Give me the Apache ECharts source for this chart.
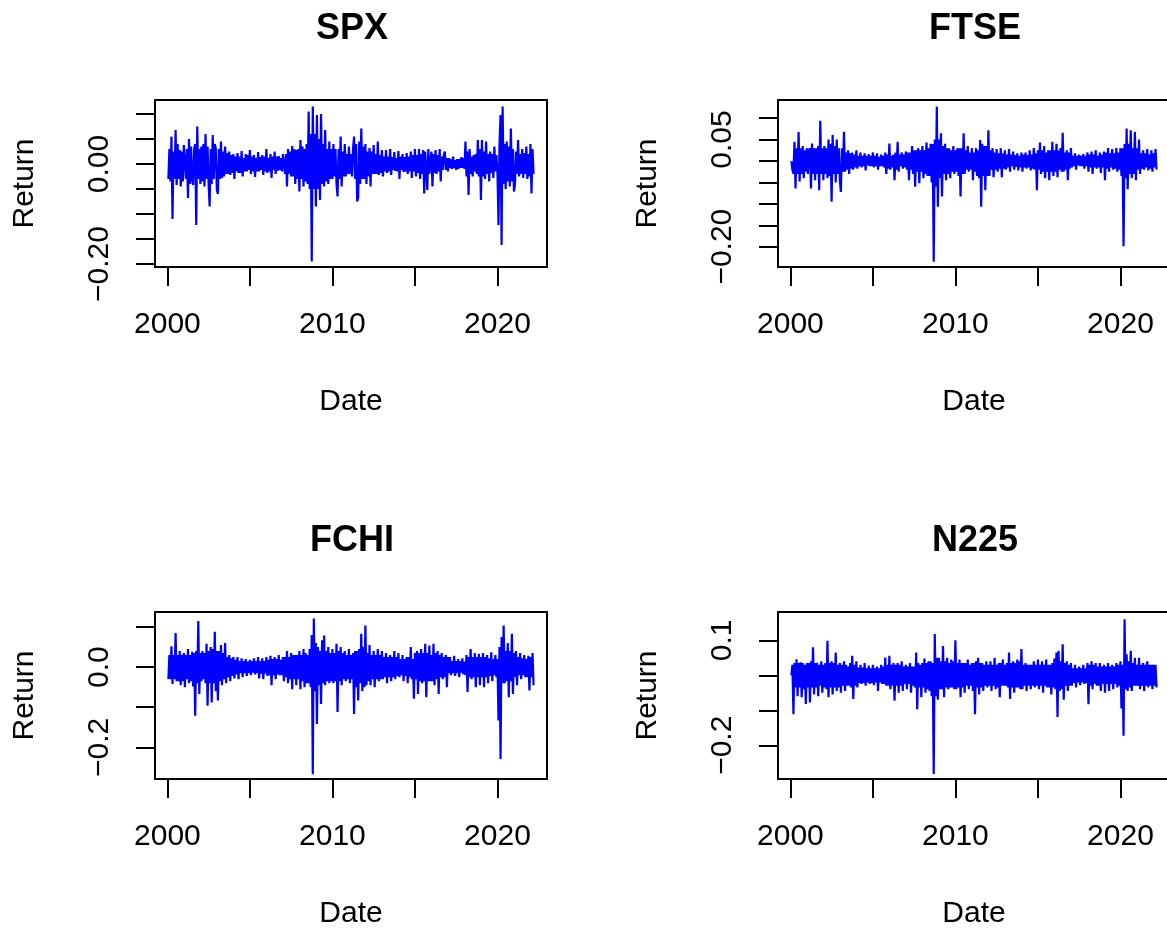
<!DOCTYPE html>
<html>
<head>
<meta charset="utf-8">
<title>Index returns</title>
<script src="https://cdn.jsdelivr.net/npm/echarts@6/dist/echarts.min.js"></script>
<style>
  html, body { margin: 0; padding: 0; background: #fff; }
  #main { width: 1167px; height: 929px; }
</style>
</head>
<body>
<div id="main"></div>
<script>
// sampled returns, 16 points per year from early 2000 to early 2022
const startYear = 2000.06
const stepYear = 0.0625

const xTicks = [2000, 2005, 2010, 2015, 2020]
const xLabels = [2000, 2010, 2020]

const spx = [
  -0.030, 0.030, -0.035, 0.055, -0.110, 0.025, -0.030, 0.068, -0.042, 0.040, -0.030, 0.028, -0.045, 0.025, -0.035, 0.038,
  0.040, -0.030, 0.030, -0.068, 0.050, -0.040, 0.035, -0.030, -0.042, 0.030, 0.040, -0.122, 0.075, -0.030, 0.030, -0.040,
  0.035, -0.035, 0.040, -0.045, 0.060, -0.030, 0.035, -0.040, -0.085, 0.030, -0.040, 0.058, -0.030, 0.040, 0.030, -0.052,
  -0.060, 0.030, -0.030, 0.045, -0.028, 0.025, -0.025, 0.035, -0.020, 0.022, -0.020, 0.025, -0.022, 0.018, -0.018, 0.020,
  -0.030, 0.015, -0.015, 0.022, -0.018, 0.015, -0.018, 0.026, -0.025, 0.012, -0.015, 0.020, -0.015, 0.018, -0.012, 0.028,
  -0.020, 0.015, -0.015, 0.018, -0.026, 0.012, -0.015, 0.024, -0.015, 0.014, -0.012, 0.018, -0.022, 0.015, -0.015, 0.030,
  -0.018, 0.012, -0.015, 0.020, -0.028, 0.015, -0.012, 0.025, -0.020, 0.015, -0.014, 0.016, -0.012, 0.012, -0.015, 0.020,
  0.018, -0.020, 0.020, -0.045, 0.030, -0.020, 0.025, -0.025, 0.036, -0.025, 0.030, -0.040, 0.028, -0.030, 0.030, -0.055,
  0.048, -0.030, 0.035, -0.045, 0.030, -0.035, 0.040, -0.040, 0.105, -0.050, 0.060, -0.195, 0.115, -0.050, 0.060, -0.085,
  0.098, -0.050, 0.050, -0.072, 0.100, -0.040, 0.040, -0.045, 0.068, -0.035, 0.030, -0.040, 0.045, -0.030, 0.030, -0.030,
  0.040, -0.025, 0.030, -0.040, -0.065, 0.030, -0.030, 0.055, -0.045, 0.025, -0.025, 0.040, -0.025, 0.020, -0.020, 0.035,
  -0.020, 0.020, -0.025, 0.030, 0.055, -0.030, 0.040, -0.075, -0.068, 0.045, -0.040, 0.071, -0.030, 0.035, -0.030, 0.040,
  -0.040, 0.025, -0.025, 0.032, -0.045, 0.025, -0.020, 0.038, -0.020, 0.020, -0.020, 0.045, -0.022, 0.018, -0.018, 0.028,
  -0.025, 0.015, -0.015, 0.028, -0.018, 0.015, -0.015, 0.030, -0.022, 0.014, -0.012, 0.024, -0.014, 0.012, -0.015, 0.026,
  -0.030, 0.015, -0.012, 0.020, -0.016, 0.014, -0.015, 0.022, -0.020, 0.015, -0.015, 0.025, -0.028, 0.018, -0.015, 0.030,
  -0.025, 0.018, -0.018, 0.030, -0.030, 0.020, -0.020, 0.028, -0.059, 0.025, 0.025, -0.052, 0.030, -0.020, -0.020, 0.025,
  -0.045, 0.020, -0.018, 0.028, -0.020, 0.018, -0.015, 0.030, -0.035, 0.015, -0.012, 0.018, 0.025, -0.012, 0.012, -0.015,
  0.012, -0.008, 0.010, -0.010, 0.015, -0.008, 0.008, -0.012, 0.010, -0.010, 0.010, -0.008, 0.014, -0.008, 0.012, -0.010,
  0.045, -0.025, 0.025, -0.062, 0.030, -0.020, 0.015, -0.025, 0.018, -0.015, 0.020, -0.020, 0.048, -0.025, 0.030, -0.072,
  0.048, -0.025, 0.025, -0.030, 0.045, -0.020, 0.020, -0.035, 0.025, -0.018, 0.020, -0.028, 0.035, -0.015, 0.018, -0.015,
  -0.122, 0.040, 0.098, -0.162, 0.115, -0.040, 0.040, -0.050, 0.045, -0.035, 0.035, -0.045, 0.071, -0.035, 0.030, -0.055,
  -0.040, 0.025, -0.020, 0.048, -0.025, 0.020, -0.020, 0.030, -0.028, 0.022, -0.020, 0.035, -0.030, 0.020, -0.025, 0.040,
  -0.059, 0.030, -0.020
]

const ftse = [
  0.000, -0.020, -0.030, 0.045, -0.064, 0.030, -0.030, 0.068, -0.048, 0.030, -0.030, 0.035, -0.040, 0.025, -0.025, 0.030,
  -0.030, 0.025, 0.030, -0.064, 0.041, -0.030, 0.030, -0.045, 0.030, -0.030, 0.035, -0.068, 0.094, -0.030, 0.030, -0.045,
  0.035, -0.030, 0.030, -0.040, 0.050, -0.035, 0.040, -0.095, 0.061, -0.030, 0.035, -0.050, 0.050, -0.030, 0.030, -0.045,
  -0.072, 0.030, -0.025, 0.068, -0.025, 0.020, -0.020, 0.025, -0.030, 0.018, -0.018, 0.020, -0.020, 0.015, -0.015, 0.025,
  -0.018, 0.012, -0.012, 0.020, -0.015, 0.012, -0.012, 0.018, -0.022, 0.012, -0.010, 0.016, -0.012, 0.012, -0.012, 0.020,
  -0.015, 0.012, -0.012, 0.018, -0.020, 0.010, -0.012, 0.015, -0.012, 0.012, -0.015, 0.020, -0.030, 0.015, -0.018, 0.041,
  -0.020, 0.012, -0.015, 0.015, -0.045, 0.020, -0.020, 0.045, -0.025, 0.015, -0.012, 0.020, -0.018, 0.015, -0.015, 0.022,
  -0.020, 0.020, -0.045, 0.020, -0.020, 0.035, -0.030, 0.025, -0.060, 0.025, -0.025, 0.030, -0.052, 0.025, -0.025, 0.035,
  -0.040, 0.025, -0.030, 0.043, -0.035, 0.030, -0.035, 0.040, -0.050, 0.040, -0.235, 0.050, -0.060, 0.127, -0.107, 0.050,
  -0.040, 0.065, -0.083, 0.035, -0.030, 0.040, -0.045, 0.030, -0.030, 0.030, -0.040, 0.025, -0.025, 0.035, -0.030, 0.025,
  -0.025, 0.030, -0.035, 0.030, -0.083, 0.030, -0.030, 0.065, -0.030, 0.025, -0.020, 0.035, -0.025, 0.020, -0.020, 0.030,
  -0.045, 0.020, -0.025, 0.030, -0.035, 0.025, -0.040, 0.049, -0.107, 0.040, -0.035, 0.035, -0.068, 0.035, -0.035, 0.072,
  -0.035, 0.025, -0.020, 0.030, -0.038, 0.020, -0.020, 0.028, -0.025, 0.018, -0.018, 0.030, -0.038, 0.018, -0.018, 0.025,
  -0.020, 0.015, -0.015, 0.028, -0.025, 0.015, -0.012, 0.022, -0.020, 0.014, -0.014, 0.018, -0.022, 0.012, -0.015, 0.020,
  -0.025, 0.015, -0.015, 0.020, -0.018, 0.014, -0.015, 0.025, -0.022, 0.015, -0.018, 0.030, -0.020, 0.018, -0.068, 0.025,
  -0.020, 0.043, -0.030, 0.025, -0.025, 0.035, -0.040, 0.020, -0.025, 0.025, -0.045, 0.025, -0.025, 0.045, -0.035, 0.025,
  -0.025, 0.040, -0.038, 0.025, -0.020, 0.030, -0.025, 0.066, -0.025, 0.020, -0.020, 0.025, -0.045, 0.020, -0.018, 0.030,
  -0.015, 0.012, -0.012, 0.018, -0.020, 0.012, -0.010, 0.015, -0.012, 0.012, -0.012, 0.016, -0.018, 0.012, -0.012, 0.020,
  -0.025, 0.015, -0.015, 0.022, -0.030, 0.015, -0.015, 0.025, -0.018, 0.012, -0.015, 0.020, -0.028, 0.015, -0.015, 0.022,
  -0.045, 0.020, -0.018, 0.030, -0.025, 0.018, -0.015, 0.028, -0.020, 0.018, -0.018, 0.030, -0.025, 0.020, -0.020, 0.030,
  -0.035, 0.030, -0.199, 0.040, -0.040, 0.076, -0.066, 0.040, -0.030, 0.072, -0.040, 0.030, -0.030, 0.068, -0.045, 0.030,
  -0.020, 0.050, -0.030, 0.018, -0.018, 0.025, -0.020, 0.018, -0.015, 0.028, -0.022, 0.015, -0.018, 0.025, -0.025, 0.018,
  -0.015, 0.028, -0.020
]

const fchi = [
  -0.030, 0.030, -0.030, 0.052, -0.042, 0.030, -0.030, 0.085, -0.035, 0.030, -0.035, 0.040, -0.045, 0.030, -0.035, 0.035,
  -0.050, 0.030, -0.030, 0.045, -0.040, 0.030, -0.035, 0.038, -0.048, 0.035, -0.121, 0.040, -0.040, 0.115, -0.067, 0.035,
  -0.035, 0.040, -0.030, 0.035, -0.040, 0.058, -0.096, 0.040, -0.040, 0.050, -0.088, 0.045, -0.040, 0.088, -0.060, 0.040,
  -0.083, 0.040, -0.035, 0.055, -0.045, 0.035, -0.030, 0.060, -0.040, 0.025, -0.025, 0.030, -0.035, 0.022, -0.022, 0.025,
  -0.028, 0.018, -0.018, 0.025, -0.030, 0.015, -0.015, 0.022, -0.025, 0.015, -0.015, 0.020, -0.022, 0.014, -0.015, 0.018,
  -0.020, 0.015, -0.014, 0.022, -0.018, 0.015, -0.015, 0.025, -0.028, 0.015, -0.016, 0.022, -0.030, 0.015, -0.016, 0.025,
  -0.022, 0.018, -0.020, 0.028, -0.045, 0.020, -0.020, 0.025, -0.030, 0.020, -0.018, 0.030, -0.020, 0.018, -0.020, 0.025,
  -0.035, 0.025, -0.025, 0.040, -0.040, 0.025, -0.030, 0.035, -0.055, 0.030, -0.030, 0.030, -0.045, 0.030, -0.030, 0.040,
  -0.055, 0.030, -0.035, 0.045, -0.050, 0.035, -0.040, 0.030, -0.040, 0.045, -0.050, 0.080, -0.267, 0.121, -0.060, 0.060,
  -0.142, 0.050, -0.045, 0.040, -0.092, 0.067, -0.040, 0.079, -0.045, 0.040, -0.035, 0.050, -0.040, 0.035, -0.035, 0.045,
  -0.040, 0.035, -0.035, 0.058, -0.112, 0.040, -0.035, 0.050, -0.045, 0.035, -0.030, 0.040, -0.035, 0.030, -0.030, 0.045,
  -0.040, 0.030, -0.030, 0.035, -0.117, 0.040, -0.050, 0.040, -0.083, 0.045, -0.040, 0.083, -0.060, 0.050, -0.050, 0.104,
  -0.045, 0.035, -0.035, 0.055, -0.045, 0.030, -0.030, 0.040, -0.050, 0.030, -0.030, 0.045, -0.035, 0.030, -0.030, 0.040,
  -0.030, 0.025, -0.025, 0.035, -0.040, 0.025, -0.025, 0.030, -0.035, 0.025, -0.025, 0.040, -0.030, 0.025, -0.022, 0.035,
  -0.025, 0.020, -0.020, 0.030, -0.035, 0.020, -0.022, 0.025, -0.040, 0.025, -0.025, 0.050, -0.030, 0.020, -0.079, 0.035,
  -0.030, 0.040, -0.067, 0.035, -0.035, 0.045, -0.040, 0.035, -0.035, 0.058, -0.075, 0.035, -0.035, 0.054, -0.035, 0.030,
  -0.035, 0.058, -0.045, 0.035, -0.030, 0.040, -0.067, 0.030, -0.025, 0.035, -0.030, 0.025, -0.025, 0.030, -0.050, 0.025,
  -0.015, 0.025, -0.020, 0.015, -0.015, 0.028, -0.022, 0.015, -0.015, 0.020, -0.025, 0.015, -0.014, 0.022, -0.018, 0.014,
  -0.020, 0.030, -0.062, 0.025, -0.025, 0.045, -0.030, 0.025, -0.025, 0.035, -0.050, 0.025, -0.025, 0.033, -0.045, 0.025,
  -0.025, 0.035, -0.050, 0.025, -0.025, 0.030, -0.040, 0.022, -0.022, 0.037, -0.035, 0.020, -0.020, 0.030, -0.025, 0.020,
  -0.133, 0.050, -0.229, 0.075, -0.040, 0.104, -0.040, 0.040, -0.035, 0.060, -0.075, 0.040, -0.035, 0.083, -0.067, 0.035,
  -0.025, 0.040, -0.045, 0.025, -0.020, 0.035, -0.030, 0.022, -0.020, 0.030, -0.025, 0.020, -0.025, 0.028, -0.058, 0.025,
  -0.025, 0.035, -0.045
]

const n225 = [
  0.000, 0.030, -0.111, 0.035, -0.035, 0.046, -0.060, 0.035, -0.035, 0.037, -0.063, 0.035, -0.040, 0.030, -0.082, 0.035,
  -0.035, 0.035, -0.078, 0.040, -0.035, 0.080, -0.055, 0.035, -0.035, 0.036, -0.060, 0.030, -0.030, 0.040, -0.050, 0.030,
  -0.035, 0.035, -0.040, 0.099, -0.063, 0.035, -0.035, 0.040, -0.055, 0.035, -0.035, 0.065, -0.045, 0.030, -0.035, 0.035,
  -0.050, 0.030, -0.030, 0.040, -0.045, 0.030, -0.030, 0.025, -0.030, 0.035, -0.035, 0.056, -0.068, 0.030, -0.030, 0.040,
  -0.035, 0.022, -0.022, 0.030, -0.025, 0.022, -0.022, 0.035, -0.030, 0.020, -0.020, 0.028, -0.025, 0.020, -0.022, 0.030,
  -0.028, 0.020, -0.020, 0.025, -0.045, 0.020, -0.020, 0.030, -0.025, 0.025, -0.025, 0.051, -0.030, 0.030, -0.030, 0.056,
  -0.040, 0.030, -0.030, 0.035, -0.073, 0.030, -0.030, 0.035, -0.050, 0.030, -0.030, 0.040, -0.045, 0.025, -0.025, 0.030,
  -0.040, 0.025, -0.025, 0.035, -0.050, 0.025, -0.030, 0.025, -0.035, 0.065, -0.097, 0.035, -0.035, 0.030, -0.063, 0.035,
  -0.035, 0.048, -0.050, 0.035, -0.040, 0.040, -0.045, 0.040, -0.060, 0.035, -0.282, 0.118, -0.060, 0.050, -0.070, 0.050,
  -0.040, 0.040, -0.040, 0.084, -0.063, 0.040, -0.035, 0.050, -0.040, 0.035, -0.035, 0.045, -0.035, 0.040, -0.040, 0.100,
  -0.040, 0.035, -0.035, 0.045, -0.063, 0.035, -0.035, 0.035, -0.050, 0.035, -0.030, 0.045, -0.040, 0.030, -0.030, 0.035,
  -0.045, 0.035, -0.111, 0.040, -0.035, 0.050, -0.055, 0.035, -0.035, 0.035, -0.045, 0.030, -0.030, 0.040, -0.035, 0.030,
  -0.030, 0.040, -0.045, 0.030, -0.030, 0.050, -0.040, 0.030, -0.035, 0.035, -0.063, 0.035, -0.030, 0.045, -0.030, 0.030,
  -0.030, 0.035, -0.035, 0.065, -0.068, 0.035, -0.035, 0.040, -0.050, 0.035, -0.035, 0.045, -0.035, 0.040, -0.040, 0.075,
  -0.040, 0.030, -0.030, 0.035, -0.045, 0.030, -0.030, 0.030, -0.040, 0.030, -0.030, 0.040, -0.035, 0.030, -0.030, 0.045,
  -0.040, 0.030, -0.030, 0.040, -0.050, 0.030, -0.030, 0.045, -0.035, 0.030, -0.035, 0.030, -0.055, 0.035, -0.035, 0.048,
  -0.040, 0.065, -0.119, 0.070, -0.045, 0.040, -0.040, 0.089, -0.070, 0.035, -0.030, 0.040, -0.045, 0.030, -0.030, 0.035,
  -0.030, 0.020, -0.022, 0.030, -0.035, 0.020, -0.020, 0.025, -0.028, 0.020, -0.020, 0.030, -0.025, 0.020, -0.022, 0.035,
  -0.083, 0.030, -0.030, 0.040, -0.040, 0.030, -0.025, 0.035, -0.030, 0.025, -0.030, 0.035, -0.045, 0.025, -0.025, 0.030,
  -0.050, 0.025, -0.025, 0.035, -0.045, 0.025, -0.025, 0.030, -0.040, 0.025, -0.025, 0.035, -0.035, 0.030, -0.030, 0.040,
  -0.095, 0.030, -0.173, 0.160, -0.040, 0.060, -0.045, 0.040, -0.035, 0.070, -0.045, 0.035, -0.030, 0.050, -0.030, 0.030,
  -0.030, 0.050, -0.040, 0.030, -0.030, 0.035, -0.045, 0.030, -0.030, 0.040, -0.035, 0.030, -0.030, 0.030, -0.040, 0.030,
  -0.030, 0.030, -0.035
]

// y axis ticks and the labelled ones
const spxTicks = [-0.2, -0.15, -0.1, -0.05, 0, 0.05, 0.1]
const spxLabels = [-0.2, 0]
const ftseTicks = [-0.2, -0.15, -0.1, -0.05, 0, 0.05, 0.1]
const ftseLabels = [-0.2, 0.05]
const fchiTicks = [-0.2, -0.1, 0, 0.1]
const fchiLabels = [-0.2, 0]
const n225Ticks = [-0.2, -0.1, 0, 0.1]
const n225Labels = [-0.2, 0.1]

const font = '"Liberation Sans", Arial, Helvetica, sans-serif'

const panels = [
  {name: 'SPX', data: spx, ticks: spxTicks, labels: spxLabels, digits: 2, min: -0.206, max: 0.128, left: 155, top: 100},
  {name: 'FTSE', data: ftse, ticks: ftseTicks, labels: ftseLabels, digits: 2, min: -0.2475, max: 0.1425, left: 778, top: 100},
  {name: 'FCHI', data: fchi, ticks: fchiTicks, labels: fchiLabels, digits: 1, min: -0.279, max: 0.1375, left: 155, top: 612},
  {name: 'N225', data: n225, ticks: n225Ticks, labels: n225Labels, digits: 1, min: -0.2965, max: 0.181, left: 778, top: 612},
]

const myChart = echarts.init(document.getElementById('main'))

const option = {
  animation: false,
  backgroundColor: '#fff',
  title: panels.map(p => ({
    text: p.name,
    left: p.left + 192,
    top: p.top - 94,
    textAlign: 'center',
    textStyle: {
      fontFamily: font,
      fontSize: 36,
      fontWeight: 'bold',
      color: '#000'
    }
  })),
  grid: panels.map(p => ({
    left: p.left,
    top: p.top,
    width: 392,
    height: 167,
    outerBoundsMode: 'none',
    show: true,
    borderColor: '#000',
    borderWidth: 2,
    backgroundColor: 'transparent'
  })),
  xAxis: panels.map((p, i) => ({
    type: 'value',
    gridIndex: i,
    min: 1999.25,
    max: 2023,
    name: 'Date',
    nameLocation: 'middle',
    nameGap: 120,
    nameTextStyle: {fontFamily: font, fontSize: 30, color: '#000'},
    axisLine: {show: false, onZero: false},
    axisTick: {
      show: true,
      length: 19,
      customValues: xTicks,
      lineStyle: {color: '#000', width: 2}
    },
    axisLabel: {
      customValues: xLabels,
      fontFamily: font,
      fontSize: 30,
      color: '#000',
      margin: 43,
      formatter: v => String(v)
    },
    splitLine: {show: false}
  })),
  yAxis: panels.map((p, i) => ({
    type: 'value',
    gridIndex: i,
    min: p.min,
    max: p.max,
    name: 'Return',
    nameLocation: 'middle',
    nameGap: 115,
    nameRotate: 90,
    nameTextStyle: {fontFamily: font, fontSize: 30, color: '#000'},
    axisLine: {show: false, onZero: false},
    axisTick: {
      show: true,
      length: 19,
      customValues: p.ticks,
      lineStyle: {color: '#000', width: 2}
    },
    axisLabel: {
      customValues: p.labels,
      rotate: 90,
      fontFamily: font,
      fontSize: 30,
      color: '#000',
      margin: 40,
      formatter: v => v.toFixed(p.digits).replace('-', '\u2212')
    },
    splitLine: {show: false}
  })),
  series: panels.map((p, i) => ({
    name: p.name,
    type: 'line',
    xAxisIndex: i,
    yAxisIndex: i,
    symbol: 'none',
    showSymbol: false,
    lineStyle: {color: '#0000ff', width: 2.2},
    data: p.data.map((v, k) => [startYear + k * stepYear, v])
  }))
}

myChart.setOption(option)
</script>
</body>
</html>
